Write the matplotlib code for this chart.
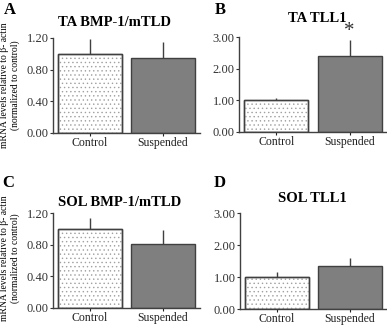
import matplotlib
matplotlib.use('Agg')
import matplotlib.pyplot as plt
from matplotlib.ticker import FormatStrFormatter

plt.rcParams['font.family'] = ['Liberation Serif', 'DejaVu Serif']
plt.rcParams['hatch.linewidth'] = 0.5
plt.rcParams['hatch.color'] = '#a0a0a0'

groups = ['Control', 'Suspended']

titles = ['TA BMP-1/mTLD', 'TA TLL1', 'SOL BMP-1/mTLD', 'SOL TLL1']
letters = ['A', 'B', 'C', 'D']

# mean and upper error (SE) per panel: control, suspended
means_A = [1.00, 0.95]
err_A = [0.19, 0.20]
means_B = [1.00, 2.40]
err_B = [0.08, 0.52]
means_C = [1.00, 0.81]
err_C = [0.14, 0.18]
means_D = [1.00, 1.34]
err_D = [0.17, 0.24]

ticks_bmp = [0.0, 0.4, 0.8, 1.2]
ticks_tll = [0.0, 1.0, 2.0, 3.0]

W, H = 387, 327
fig = plt.figure(figsize=(W / 100, H / 100), dpi=100)


def px_axes(left, right, top, bottom):
    return fig.add_axes([left / W, 1 - bottom / H, (right - left) / W, (bottom - top) / H])


panels = [
    (px_axes(53, 200, 38, 133), means_A, err_A, ticks_bmp),
    (px_axes(239, 387, 37, 132), means_B, err_B, ticks_tll),
    (px_axes(53, 200, 213, 308), means_C, err_C, ticks_bmp),
    (px_axes(240, 387, 213, 309), means_D, err_D, ticks_tll),
]

for ax, means, errs, ticks in panels:
    x = [0, 1]
    ax.bar(x, means, width=0.87, color=['white', '#7f7f7f'],
           edgecolor='#404040', linewidth=1.0, zorder=2)
    # dotted pattern on control bar
    ax.bar([0], [means[0]], width=0.87, color='none', edgecolor='#a0a0a0',
           linewidth=0, hatch='....', zorder=2)
    ax.bar([0], [means[0]], width=0.87, color='none', edgecolor='#404040',
           linewidth=1.0, zorder=3)
    ax.errorbar(x, means, yerr=[[0, 0], errs], fmt='none', ecolor='#404040',
                elinewidth=1.0, capsize=0, zorder=1)
    ax.set_xlim(-0.51, 1.51)
    ax.set_ylim(0, ticks[-1])
    ax.set_yticks(ticks)
    ax.yaxis.set_major_formatter(FormatStrFormatter('%.2f'))
    ax.set_xticks(x)
    ax.set_xticklabels(groups)
    ax.spines['top'].set_visible(False)
    ax.spines['right'].set_visible(False)
    for s in ['left', 'bottom']:
        ax.spines[s].set_color('#404040')
        ax.spines[s].set_linewidth(1.0)
    ax.tick_params(axis='y', labelsize=9, length=2, width=0.8, pad=1, colors='#333333')
    ax.tick_params(axis='x', labelsize=8.5, length=2, width=0.8, pad=1, colors='#222222')

# asterisk in panel B
axB = panels[1][0]
axB.text(1, means_B[1] + err_B[1] - 0.05, '*', ha='center', va='bottom',
         fontsize=15, color='#333333')

# titles and panel letters
title_pos = [(115, 22), (317, 19), (120, 202), (312, 198)]
letter_pos = [(10, 10), (220, 10), (8, 183), (220, 183)]
for t, (tx, ty), l, (lx, ly) in zip(titles, title_pos, letters, letter_pos):
    fig.text(tx / W, 1 - ty / H, t, ha='center', va='center',
             fontsize=10.5, fontweight='bold')
    fig.text(lx / W, 1 - ly / H, l, ha='center', va='center',
             fontsize=12, fontweight='bold')

# y labels
for cy in [85, 258]:
    fig.text(5 / W, 1 - cy / H, 'mRNA levels relative to \u03b2- actin',
             rotation=90, ha='center', va='center', fontsize=6.9)
    fig.text(15 / W, 1 - cy / H, '(normalized to control)',
             rotation=90, ha='center', va='center', fontsize=6.9)

fig.savefig('out.png', dpi=100)
